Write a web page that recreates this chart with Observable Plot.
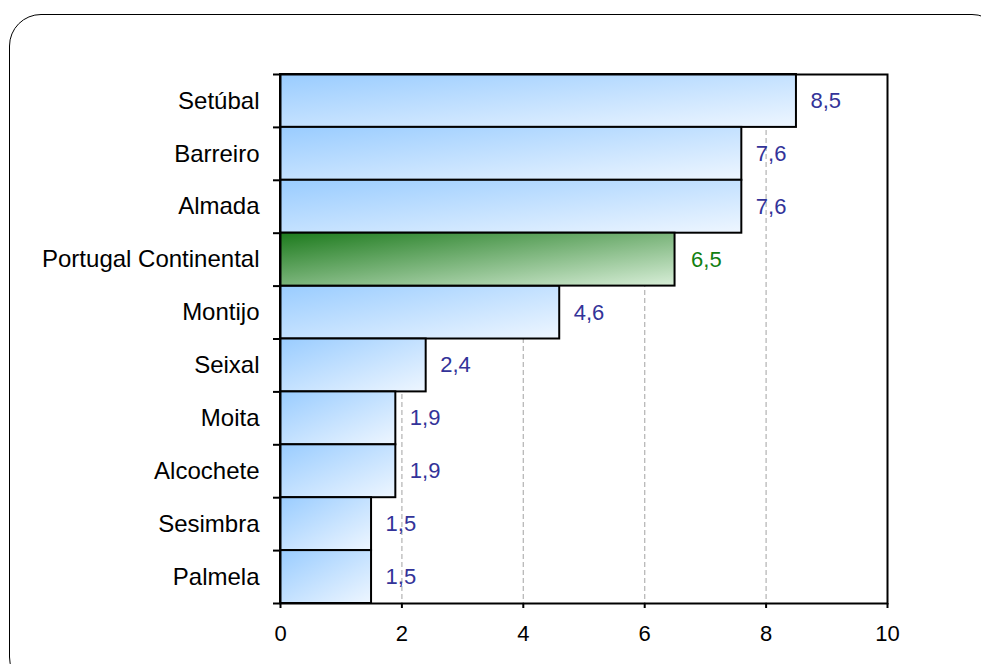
<!DOCTYPE html>
<html><head><meta charset="utf-8">
<script src="https://cdn.jsdelivr.net/npm/d3@7"></script>
<script src="https://cdn.jsdelivr.net/npm/@observablehq/plot@0.6"></script>
<style>
html,body{margin:0;padding:0;background:#fff;}
#wrap{position:relative;width:981px;height:664px;overflow:hidden;}
#frame{position:absolute;left:9px;top:14px;width:995px;height:675px;border:1.5px solid #000;border-radius:32px;box-sizing:border-box;}
#chart{position:absolute;left:0;top:0;}
</style></head><body>
<div id="wrap"><div id="frame"></div><div id="chart"></div></div>
<script>
const categories = ["Setúbal","Barreiro","Almada","Portugal Continental","Montijo","Seixal","Moita","Alcochete","Sesimbra","Palmela"];
const values = [8.5,7.6,7.6,6.5,4.6,2.4,1.9,1.9,1.5,1.5];
const highlight = "Portugal Continental";
const xTicks = [0,2,4,6,8,10];
const gridTicks = [2,4,6,8];

const data = categories.map((c,i)=>({cat:c, value:values[i], i, hl: c===highlight}));
const fmt = v => d3.format(".1f")(v).replace(".", ",");
const font = "'Liberation Sans', Arial, sans-serif";
const n = categories.length;

const plot = Plot.plot({
  width:981, height:664,
  marginLeft:280, marginRight:94, marginTop:74, marginBottom:61,
  style:{fontFamily:font, fontSize:"22px", color:"#000", background:"transparent", overflow:"visible"},
  x:{domain:[0,10], label:null},
  y:{domain:[n,0], label:null},
  marks:[
    Plot.ruleX(gridTicks, {stroke:"#b8b8b8", strokeDasharray:"5,3", strokeWidth:1.3}),
    Plot.rectX(data.filter(d=>!d.hl), {x1:0, x2:"value", y1:"i", y2:d=>d.i+1, fill:"url(#gBlue)", stroke:"#000", strokeWidth:2}),
    Plot.rectX(data.filter(d=>d.hl), {x1:0, x2:"value", y1:"i", y2:d=>d.i+1, fill:"url(#gGreen)", stroke:"#000", strokeWidth:2}),
    Plot.text(data.filter(d=>!d.hl), {x:"value", y:d=>d.i+0.5, text:d=>fmt(d.value), dx:14, textAnchor:"start", fill:"#333399", fontSize:22}),
    Plot.text(data.filter(d=>d.hl), {x:"value", y:d=>d.i+0.5, text:d=>fmt(d.value), dx:16, textAnchor:"start", fill:"#118011", fontSize:22}),
    Plot.frame({stroke:"#000", strokeWidth:2}),
    Plot.axisY(d3.range(n+1), {tickSize:7, tickFormat:()=>"", label:null, stroke:"#000", strokeWidth:2}),
    Plot.axisY(categories.map((c,i)=>i+0.5), {tickSize:0, tickPadding:21, label:null, tickFormat:v=>categories[Math.round(v-0.5)], fill:"#000", fontSize:24}),
    Plot.axisX(xTicks, {tickSize:5, tickPadding:17, label:null, tickFormat:d3.format("d"), stroke:"#000", strokeWidth:2, fill:"#000", fontSize:22})
  ]
});

const ns = "http://www.w3.org/2000/svg";
const defs = document.createElementNS(ns, "defs");
defs.innerHTML = `<linearGradient id="gBlue" x1="0" y1="0" x2="1" y2="1">
  <stop offset="0" stop-color="#99ccff"/><stop offset="1" stop-color="#eef6ff"/></linearGradient>
  <linearGradient id="gGreen" x1="0" y1="0" x2="1" y2="1">
  <stop offset="0" stop-color="#1c7a1c"/><stop offset="1" stop-color="#d8eed8"/></linearGradient>`;
plot.insertBefore(defs, plot.firstChild);
document.getElementById("chart").appendChild(plot);
</script>
</body></html>
